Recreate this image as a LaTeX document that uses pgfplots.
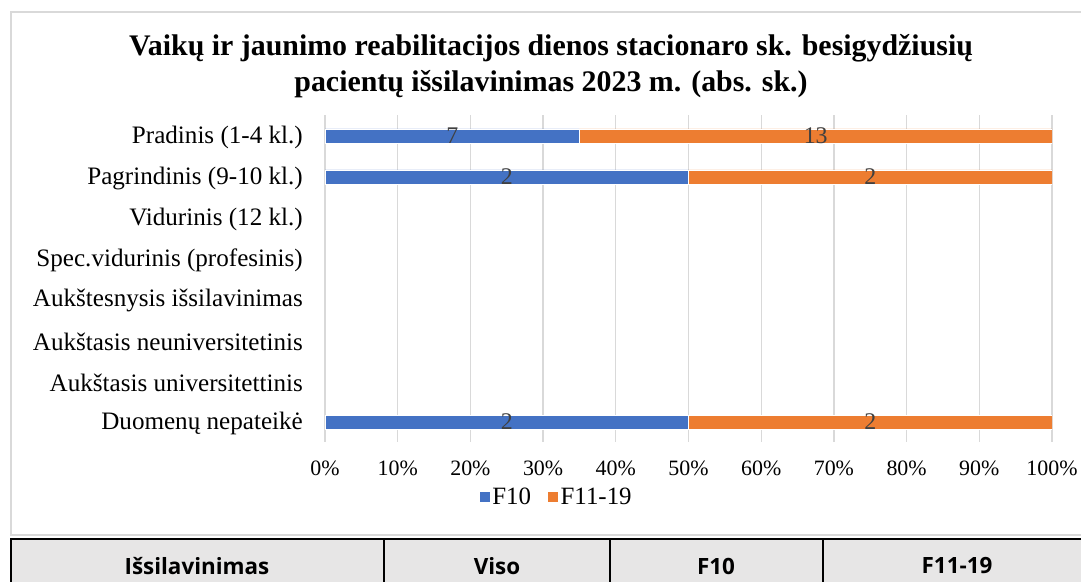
\documentclass[border=0pt]{standalone}
\usepackage{fontspec}
\setmainfont{Liberation Serif}
\newfontfamily\tabfont{Open Sans}
\usepackage{pgfplots}
\pgfplotsset{compat=1.18}
\definecolor{cblue}{HTML}{4472C4}
\definecolor{corange}{HTML}{ED7D31}
\definecolor{gridc}{HTML}{D9D9D9}
\definecolor{labc}{HTML}{404040}
\definecolor{tabgray}{HTML}{E7E6E6}
\pgfplotsset{
  chartgeom/.style={
    at={(325bp,139.5bp)}, anchor=south west,
    scale only axis, width=727bp, height=327bp,
    xmin=0, xmax=100, ymin=-0.5, ymax=7.5, y dir=reverse,
  }
}
\begin{document}
\begin{tikzpicture}[x=1bp,y=1bp]
\path[use as bounding box] (0,0) rectangle (1081,582);
% chart frame
\draw[gridc, line width=1.5bp] (1095,47) -- (11,47) -- (11,570) -- (1095,570);
% title
\node[font=\bfseries\fontsize{30}{36}\selectfont, align=center, text=black] at (551,516) {Vaikų ir jaunimo reabilitacijos dienos stacionaro sk. besigydžiusių\\pacientų išsilavinimas 2023 m. (abs. sk.)};
\begin{axis}[
  chartgeom,
  xbar stacked, bar width=14bp,
  axis line style={draw=none},
  major tick length=0pt,
  xmajorgrids, grid style={gridc, line width=1.3bp},
  xtick={0,10,...,100},
  xticklabels={0\%,10\%,20\%,30\%,40\%,50\%,60\%,70\%,80\%,90\%,100\%},
  ytick={0,1,...,7},
  yticklabels={Pradinis (1-4 kl.),Pagrindinis (9-10 kl.),Vidurinis (12 kl.),Spec.vidurinis (profesinis),Aukštesnysis išsilavinimas,Aukštasis neuniversitetinis,Aukštasis universitettinis,Duomenų nepateikė},
  xticklabel style={font=\fontsize{22}{22}\selectfont, anchor=north, inner sep=0pt},
  xticklabel shift=18bp,
  yticklabel style={font=\fontsize{25.2}{25}\selectfont, anchor=east, inner sep=0pt, yshift=-1.5bp},
  yticklabel shift=22bp,
  legend style={at={(0.318,-0.167)}, anchor=center, draw=none, fill=none,
    legend columns=2, font=\fontsize{25}{25}\selectfont,
    /tikz/every even column/.append style={column sep=14bp},
    inner sep=0pt, legend cell align=left},
  legend image code/.code={\fill[#1] (0bp,-5.5bp) rectangle (11bp,5.5bp);},
]
\addplot[fill=cblue, draw=white, line width=0.6bp] coordinates {
  (35,0) (50,1) (50,7)
};
\addlegendentry{F10}
\addplot[fill=corange, draw=white, line width=0.6bp] coordinates {
  (65,0) (50,1) (50,7)
};
\addlegendentry{F11-19}
\end{axis}
% data labels (counts) at the middle of each segment
\begin{axis}[
  chartgeom,
  hide axis,
  point meta=explicit symbolic,
  nodes near coords,
  every node near coord/.append style={anchor=center, text=labc,
    font=\fontsize{24}{24}\selectfont, inner sep=0pt},
]
\addplot[only marks, mark=none] coordinates {
  (17.5,0) [7]  (67.5,0) [13]
  (25,1) [2]    (75,1) [2]
  (25,7) [2]    (75,7) [2]
};
\end{axis}
% table header
\fill[tabgray] (11,0) rectangle (1095,43);
\draw[black, line width=1.3bp] (11,-2) -- (11,43) -- (1095,43);
\foreach \xx in {384,610,823} \draw[black, line width=1.3bp] (\xx,-2) -- (\xx,43);
\begin{scope}[every node/.style={font=\tabfont\bfseries\fontsize{22.5}{22}\selectfont, text=black}]
\node at (197,16) {Išsilavinimas};
\node at (497,16) {Viso};
\node at (716,16) {F10};
\node at (957,16) {F11-19};
\end{scope}
\end{tikzpicture}
\end{document}
